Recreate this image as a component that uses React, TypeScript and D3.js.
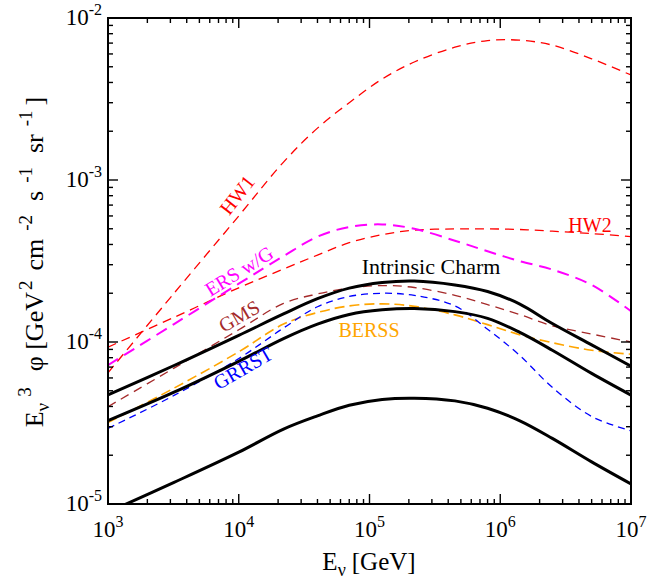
import React from 'react';
import * as d3 from 'd3';

// energies in GeV (shared grid for all curves)
const energy = [1e3, 3.2e3, 1e4, 2.2e4, 4e4, 7e4, 1.25e5, 2.2e5, 4.5e5, 8e5, 1.4e6, 2.5e6, 5e6, 1e7];

// E^3 phi  [GeV^2 cm^-2 s^-1 sr^-1]
const icHigh = [4.71e-5, 7.16e-5, 1.1e-4, 1.49e-4, 1.85e-4, 2.15e-4, 2.33e-4, 2.38e-4, 2.25e-4, 2.05e-4, 1.72e-4, 1.3e-4, 9.6e-5, 7.1e-5];
const icMid = [3.27e-5, 4.9e-5, 7.6e-5, 1.05e-4, 1.29e-4, 1.48e-4, 1.58e-4, 1.61e-4, 1.54e-4, 1.4e-4, 1.15e-4, 8.9e-5, 6.4e-5, 4.7e-5];
const icLow = [8.9e-6, 1.36e-5, 2.09e-5, 2.9e-5, 3.5e-5, 4.07e-5, 4.42e-5, 4.5e-5, 4.33e-5, 3.9e-5, 3.27e-5, 2.54e-5, 1.82e-5, 1.33e-5];
const hw1 = [6.46e-5, 2.0e-4, 6.0e-4, 1.29e-3, 2.09e-3, 3.0e-3, 4.2e-3, 5.35e-3, 6.6e-3, 7.25e-3, 7.3e-3, 6.8e-3, 5.6e-3, 4.45e-3];
const hw2 = [9.3e-5, 1.42e-4, 2.16e-4, 2.82e-4, 3.44e-4, 4.1e-4, 4.6e-4, 4.9e-4, 4.99e-4, 4.99e-4, 4.95e-4, 4.83e-4, 4.67e-4, 4.47e-4];
const ers = [7.2e-5, 1.29e-4, 2.29e-4, 3.39e-4, 4.47e-4, 5.13e-4, 5.32e-4, 5.0e-4, 4.22e-4, 3.63e-4, 3.16e-4, 2.8e-4, 2.25e-4, 1.55e-4];
const gms = [3.99e-5, 6.9e-5, 1.19e-4, 1.73e-4, 1.98e-4, 2.15e-4, 2.23e-4, 2.17e-4, 1.94e-4, 1.7e-4, 1.48e-4, 1.26e-4, 1.12e-4, 1.0e-4];
const berss = [3.18e-5, 5.19e-5, 8.7e-5, 1.29e-4, 1.52e-4, 1.67e-4, 1.72e-4, 1.66e-4, 1.47e-4, 1.28e-4, 1.11e-4, 9.9e-5, 8.9e-5, 8.4e-5];
const grrst = [2.93e-5, 4.68e-5, 7.9e-5, 1.22e-4, 1.65e-4, 1.91e-4, 2.0e-4, 1.94e-4, 1.67e-4, 1.2e-4, 8.3e-5, 5.25e-5, 3.47e-5, 2.83e-5];

const xExponents = [3, 4, 5, 6, 7];
const yExponents = [-2, -3, -4, -5];

const W = 663;
const H = 580;
const margin = { top: 18, right: 32, bottom: 76, left: 108 };
const FONT = "'Liberation Serif', 'Times New Roman', Times, serif";

const series = [
  { values: hw1, color: '#ff0000', width: 1.3, dash: '9,6' },
  { values: hw2, color: '#ff0000', width: 1.3, dash: '9,6' },
  { values: ers, color: '#ff00ff', width: 2, dash: '12,7' },
  { values: gms, color: '#a52a2a', width: 1.3, dash: '9,6' },
  { values: berss, color: '#ffa500', width: 1.6, dash: '10,5' },
  { values: grrst, color: '#0000ff', width: 1.3, dash: '7,5' },
  { values: icHigh, color: '#000', width: 3, dash: null },
  { values: icMid, color: '#000', width: 3, dash: null },
  { values: icLow, color: '#000', width: 3, dash: null },
];

const labels = [
  { text: 'HW1', x: 237, y: 195, angle: -52, color: '#ff0000', size: 20 },
  { text: 'ERS w/G', x: 239, y: 271, angle: -32, color: '#ff00ff', size: 20 },
  { text: 'GMS', x: 239, y: 316, angle: -30, color: '#a52a2a', size: 20 },
  { text: 'GRRST', x: 243, y: 368, angle: -30, color: '#0000ff', size: 20 },
  { text: 'HW2', x: 590, y: 225, angle: 0, color: '#ff0000', size: 20 },
  { text: 'BERSS', x: 369, y: 330, angle: 0, color: '#ffa500', size: 20 },
  { text: 'Intrinsic Charm', x: 431, y: 266, angle: 0, color: '#000', size: 22 },
];

export default function App() {
  const x0 = margin.left;
  const x1 = W - margin.right;
  const y0 = margin.top;
  const y1 = H - margin.bottom;

  const x = d3.scaleLog().domain([1e3, 1e7]).range([x0, x1]);
  const y = d3.scaleLog().domain([1e-5, 1e-2]).range([y1, y0]);

  const line = d3
    .line<number>()
    .x((_, i) => x(energy[i]))
    .y((d) => y(d))
    .curve(d3.curveCatmullRom.alpha(0.5));

  const isMajor = (v: number) => Math.abs(Math.log10(v) - Math.round(Math.log10(v))) < 1e-6;
  const xt = x.ticks();
  const yt = y.ticks();
  const tf = { fontFamily: FONT };

  return (
    <svg width={W} height={H} style={{ position: 'absolute', left: 0, top: 0, background: '#fff', fontFamily: FONT }}>
      <defs>
        <clipPath id="plot">
          <rect x={x0} y={y0} width={x1 - x0} height={y1 - y0} />
        </clipPath>
      </defs>

      <g clipPath="url(#plot)">
        {series.map((s, i) => (
          <path
            key={i}
            d={line(s.values) || ''}
            fill="none"
            stroke={s.color}
            strokeWidth={s.width}
            strokeDasharray={s.dash || undefined}
          />
        ))}
      </g>

      {/* ticks, all four sides, pointing inward */}
      <g stroke="#000" strokeWidth={1.4}>
        {xt.map((t, i) => {
          const len = isMajor(t) ? 10 : 5;
          return (
            <g key={'x' + i}>
              <line x1={x(t)} x2={x(t)} y1={y1} y2={y1 - len} />
              <line x1={x(t)} x2={x(t)} y1={y0} y2={y0 + len} />
            </g>
          );
        })}
        {yt.map((t, i) => {
          const len = isMajor(t) ? 10 : 5;
          return (
            <g key={'y' + i}>
              <line x1={x0} x2={x0 + len} y1={y(t)} y2={y(t)} />
              <line x1={x1} x2={x1 - len} y1={y(t)} y2={y(t)} />
            </g>
          );
        })}
      </g>
      <rect x={x0} y={y0} width={x1 - x0} height={y1 - y0} fill="none" stroke="#000" strokeWidth={2} />

      {/* tick labels */}
      {xExponents.map((e) => (
        <text key={'xl' + e} style={tf} x={x(Math.pow(10, e))} y={y1 + 33} textAnchor="middle" fontSize={23}>
          10<tspan fontSize={16} dy={-10}>{e}</tspan>
        </text>
      ))}
      {yExponents.map((e) => (
        <text key={'yl' + e} style={tf} x={x0 - 6} y={y(Math.pow(10, e)) + 7} textAnchor="end" fontSize={23}>
          10<tspan fontSize={16} dy={-10}>{e}</tspan>
        </text>
      ))}

      {/* axis titles */}
      <text style={tf} x={369} y={570} textAnchor="middle" fontSize={25}>
        E<tspan fontSize={18} dy={6}>ν</tspan>
        <tspan dy={-6} dx={6}>[GeV]</tspan>
      </text>
      <text style={tf} transform="translate(43,262) rotate(-90)" textAnchor="middle" fontSize={26}>
        <tspan>E</tspan>
        <tspan fontSize={19} dy={6}>ν</tspan>
        <tspan fontSize={19} dy={-18} dx={6}>3</tspan>
        <tspan dy={12} dx={16}>φ [GeV</tspan>
        <tspan fontSize={19} dy={-11} dx={2}>2</tspan>
        <tspan dy={11} dx={10}>cm</tspan>
        <tspan fontSize={19} dy={-11} dx={8}>-2</tspan>
        <tspan dy={11} dx={14}>s</tspan>
        <tspan fontSize={19} dy={-11} dx={8}>-1</tspan>
        <tspan dy={11} dx={14}>sr</tspan>
        <tspan fontSize={19} dy={-11} dx={8}>-1</tspan>
        <tspan dy={11} dx={5}>]</tspan>
      </text>

      {/* curve labels */}
      {labels.map((l) => (
        <text
          key={l.text}
          style={tf}
          transform={`translate(${l.x},${l.y}) rotate(${l.angle})`}
          textAnchor="middle"
          dy="0.35em"
          fontSize={l.size}
          fill={l.color}
        >
          {l.text}
        </text>
      ))}
    </svg>
  );
}
